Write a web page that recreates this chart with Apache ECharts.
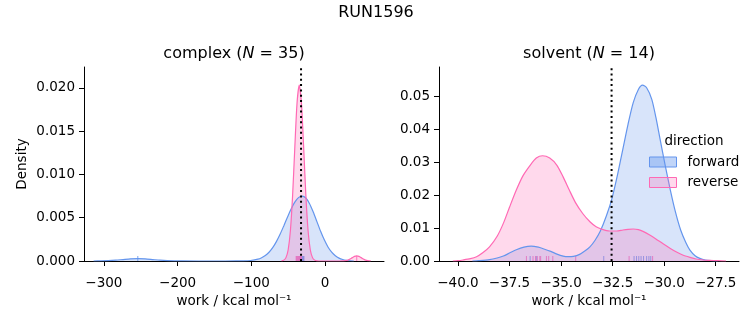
<!DOCTYPE html>
<html><head><meta charset="utf-8">
<script src="https://cdn.jsdelivr.net/npm/echarts@6/dist/echarts.min.js"></script>
<style>html,body{margin:0;padding:0;background:#fff}#c{width:753px;height:325px}</style>
</head><body><div id="c"></div>
<script>
// ---------- data ----------
const suptitle = 'RUN1596';
const panelNames = ['complex', 'solvent'];
const panelN = [35, 14];
const directions = ['forward', 'reverse'];
const dG = [-32.55, -32.55];

// complex KDE (forward)
const complexFwdX = [-314,-304,-294,-284,-274,-264,-254,-244,-234,-224,-214,-204,-194,-150,-121,-111,-101,-91,-86,-81,-76,-71,-66,-61,-56,-51,-46,-41,-36,-31,-26,-21,-16,-11,-6,-1,4,9,14,19,24,29,34,39];
const complexFwdY = [0,0.000012,0.000038,0.000091,0.00017,0.000247,0.00028,0.000247,0.00017,0.000091,0.000038,0.000012,0.000003,0,0.000003,0.000014,0.00006,0.00021,0.00038,0.00063,0.00101,0.00154,0.00224,0.00308,0.00405,0.00505,0.00601,0.00679,0.00732,0.0075,0.00727,0.00662,0.00566,0.00455,0.00343,0.00244,0.00162,0.00102,0.0006,0.00033,0.00017,0.00008,0.00003,0];
// complex KDE (reverse)
const complexRevX = [-59,-56,-53,-50,-47,-44,-41,-38,-35,-32,-29,-26,-23,-20,-17,-14,-11,-5,20,25,28,31,34,37,40,43,46,49,52,55,58,61,62];
const complexRevY = [0.00002,0.0001,0.00039,0.0013,0.0035,0.00755,0.0131,0.0182,0.0203,0.0182,0.0131,0.00755,0.0035,0.0013,0.00039,0.0001,0.00002,0,0,0.00002,0.00004,0.0001,0.00022,0.00039,0.00054,0.0006,0.00054,0.00039,0.00022,0.0001,0.00004,0.00002,0];
// solvent KDE (forward)
const solventFwdX = [-39.3,-39.0,-38.47,-38.1,-37.8,-37.5,-37.17,-36.8,-36.45,-36.1,-35.9,-35.5,-35.2,-34.9,-34.68,-34.4,-34.1,-33.85,-33.6,-33.35,-33.1,-32.8,-32.53,-32.25,-32.0,-31.75,-31.5,-31.25,-31.05,-30.85,-30.6,-30.4,-30.2,-29.95,-29.7,-29.45,-29.2,-28.95,-28.75,-28.5,-28.27,-28.0,-27.7,-27.4];
const solventFwdY = [0,0.0001,0.0004,0.0009,0.0015,0.0024,0.0034,0.0042,0.0045,0.0042,0.0038,0.0029,0.0021,0.0015,0.0013,0.0014,0.002,0.003,0.0043,0.0063,0.009,0.0137,0.019,0.0265,0.034,0.0415,0.048,0.052,0.0533,0.0525,0.049,0.0435,0.037,0.029,0.0215,0.0148,0.0094,0.0056,0.0033,0.0016,0.0008,0.0003,0.0001,0];
// solvent KDE (reverse)
const solventRevX = [-40.25,-40.0,-39.76,-39.4,-39.1,-38.8,-38.47,-38.1,-37.8,-37.5,-37.17,-36.85,-36.5,-36.2,-35.9,-35.55,-35.2,-34.9,-34.6,-34.3,-33.95,-33.6,-33.3,-33.0,-32.66,-32.3,-32.0,-31.75,-31.5,-31.25,-31.0,-30.7,-30.4,-30.05,-29.7,-29.4,-29.1,-28.75,-28.45,-28.1,-27.8,-27.4,-27.0];
const solventRevY = [0,0.0001,0.0003,0.0007,0.0013,0.0025,0.0043,0.0075,0.0114,0.0163,0.0215,0.0258,0.029,0.0312,0.0319,0.0312,0.029,0.0255,0.0215,0.0177,0.0144,0.0119,0.0104,0.0096,0.0091,0.0091,0.0094,0.0096,0.0097,0.0095,0.0089,0.0079,0.0067,0.0052,0.0038,0.0027,0.0018,0.0011,0.0006,0.0003,0.0002,0.0001,0];

// rug values
const complexFwdRug = [-254,-33.8,-33.0,-32.3,-31.6,-31.0,-30.4,-29.8,-29.2,-28.6];
const complexRevRug = [-39.2,-38.5,-37.8,-37.0,-36.3,-35.6,-34.9,-34.2,-33.5,-32.8,-32.0,43];
const solventFwdRug = [-36.5,-36.2,-32.93,-31.46,-31.34,-31.23,-31.12,-31.0,-30.85,-30.74,-30.65];
const solventRevRug = [-36.68,-36.36,-36.24,-36.15,-36.03,-35.99,-35.71,-35.6,-35.4,-34.29,-31.7,-30.56];

// axes
const complexXTicks = [-300,-200,-100,0];
const complexYTicks = [0,0.005,0.010,0.015,0.020];
const solventXTicks = [-40,-37.5,-35,-32.5,-30,-27.5];
const solventYTicks = [0,0.01,0.02,0.03,0.04,0.05];
const complexXRange = [-327, 80];
const complexYRange = [0, 0.0224];
const solventXRange = [-40.92, -26.37];
const solventYRange = [0, 0.0588];

// ---------- chart ----------
const FONT = 'DejaVu Sans';
const BLUE = '#6495ED', PINK = '#FF69B4';
const zip = (xs, ys) => xs.map((x, i) => [x, ys[i]]);
const minus = s => s.replace('-', '\u2212');

function xAxis(gi, range, ticks, dec) {
  return {
    type: 'value', gridIndex: gi, min: range[0], max: range[1],
    name: 'work / kcal mol\u207B\u00B9', nameLocation: 'middle', nameGap: 32,
    nameTextStyle: {fontFamily: FONT, fontSize: 13.5, color: '#000'},
    axisLine: {show: true, onZero: false, lineStyle: {color: '#000', width: 1}},
    axisTick: {show: true, length: 5, inside: false, lineStyle: {color: '#000', width: 1}, customValues: ticks},
    axisLabel: {show: true, margin: 15, fontFamily: FONT, fontSize: 13.5, color: '#000', customValues: ticks,
      formatter: v => minus(dec === 0 ? String(Math.round(v)) : v.toFixed(dec))},
    splitLine: {show: false}
  };
}
function yAxis(gi, range, ticks, dec, name) {
  return {
    type: 'value', gridIndex: gi, min: range[0], max: range[1],
    name: name, nameLocation: 'middle', nameGap: 55,
    nameTextStyle: {fontFamily: FONT, fontSize: 13.5, color: '#000'},
    axisLine: {show: true, onZero: false, lineStyle: {color: '#000', width: 1}},
    axisTick: {show: true, length: 5, inside: false, lineStyle: {color: '#000', width: 1}, customValues: ticks},
    axisLabel: {show: true, margin: 9, fontFamily: FONT, fontSize: 13.5, color: '#000', customValues: ticks,
      formatter: v => v.toFixed(dec)},
    splitLine: {show: false}
  };
}
function kde(gi, name, color, xs, ys) {
  return {
    type: 'line', name: name, xAxisIndex: gi, yAxisIndex: gi, data: zip(xs, ys),
    showSymbol: false, symbol: 'none', smooth: 0.25,
    lineStyle: {color: color, width: 1.2},
    itemStyle: {color: color},
    areaStyle: {color: color, opacity: 0.25, origin: 'start'},
    emphasis: {disabled: true}, silent: true
  };
}
function rug(gi, name, color, xs) {
  return {
    type: 'scatter', name: name, xAxisIndex: gi, yAxisIndex: gi, clip: false,
    data: xs.map(x => [x, 0]), symbol: 'rect', symbolSize: [1, 5], symbolOffset: [0, -2.5],
    itemStyle: {color: color, opacity: 0.85}, silent: true
  };
}
function vline(gi, x, ymax) {
  return {
    type: 'line', xAxisIndex: gi, yAxisIndex: gi, data: [[x, 0], [x, ymax]],
    showSymbol: false, symbol: 'none', silent: true,
    lineStyle: {color: '#000', width: 2, type: [2, 3.3]}, z: 5
  };
}

const grids = [
  {left: 84, top: 67, width: 300, height: 194},
  {left: 439, top: 67, width: 300, height: 194}
];

function titleText(i) {
  return panelNames[i] + ' ({it|N}{n| = ' + panelN[i] + ')}';
}

const option = {
  animation: false,
  backgroundColor: '#fff',
  grid: grids,
  xAxis: [xAxis(0, complexXRange, complexXTicks, 0), xAxis(1, solventXRange, solventXTicks, 1)],
  yAxis: [yAxis(0, complexYRange, complexYTicks, 3, 'Density'), yAxis(1, solventYRange, solventYTicks, 2, '')],
  legend: {
    orient: 'vertical', left: 649, top: 155, padding: 0, itemWidth: 27, itemHeight: 10, itemGap: 6.5,
    selectedMode: false, icon: 'rect',
    textStyle: {fontFamily: FONT, fontSize: 13.5, color: '#000', padding: [0, 0, 0, 6]},
    data: [
      {name: directions[0], itemStyle: {color: 'rgba(100,149,237,0.4)', borderColor: BLUE, borderWidth: 1}},
      {name: directions[1], itemStyle: {color: 'rgba(255,105,180,0.25)', borderColor: PINK, borderWidth: 1}}
    ]
  },
  graphic: [
    {type: 'text', x: 376, y: 13, style: {text: suptitle, font: '16px "DejaVu Sans"', fill: '#000', align: 'center', verticalAlign: 'middle'}},
    {type: 'text', x: 234, y: 54, style: {text: titleText(0), font: '16px "DejaVu Sans"', fill: '#000', align: 'center', verticalAlign: 'middle',
      rich: {it: {fontStyle: 'italic', fontSize: 16, fontFamily: FONT}, n: {fontSize: 16, fontFamily: FONT}}}},
    {type: 'text', x: 589, y: 54, style: {text: titleText(1), font: '16px "DejaVu Sans"', fill: '#000', align: 'center', verticalAlign: 'middle',
      rich: {it: {fontStyle: 'italic', fontSize: 16, fontFamily: FONT}, n: {fontSize: 16, fontFamily: FONT}}}},
    {type: 'text', x: 694, y: 141, style: {text: 'direction', font: '13.5px "DejaVu Sans"', fill: '#000', align: 'center', verticalAlign: 'middle'}}
  ],
  series: [
    kde(0, directions[0], BLUE, complexFwdX, complexFwdY),
    kde(0, directions[1], PINK, complexRevX, complexRevY),
    rug(0, 'rf0', BLUE, complexFwdRug),
    rug(0, 'rr0', PINK, complexRevRug),
    vline(0, dG[0], complexYRange[1]),
    kde(1, directions[0], BLUE, solventFwdX, solventFwdY),
    kde(1, directions[1], PINK, solventRevX, solventRevY),
    rug(1, 'rf1', BLUE, solventFwdRug),
    rug(1, 'rr1', PINK, solventRevRug),
    vline(1, dG[1], solventYRange[1])
  ]
};
const chart = echarts.init(document.getElementById('c'), null, {renderer: 'canvas'});
chart.setOption(option);
</script>
</body></html>
